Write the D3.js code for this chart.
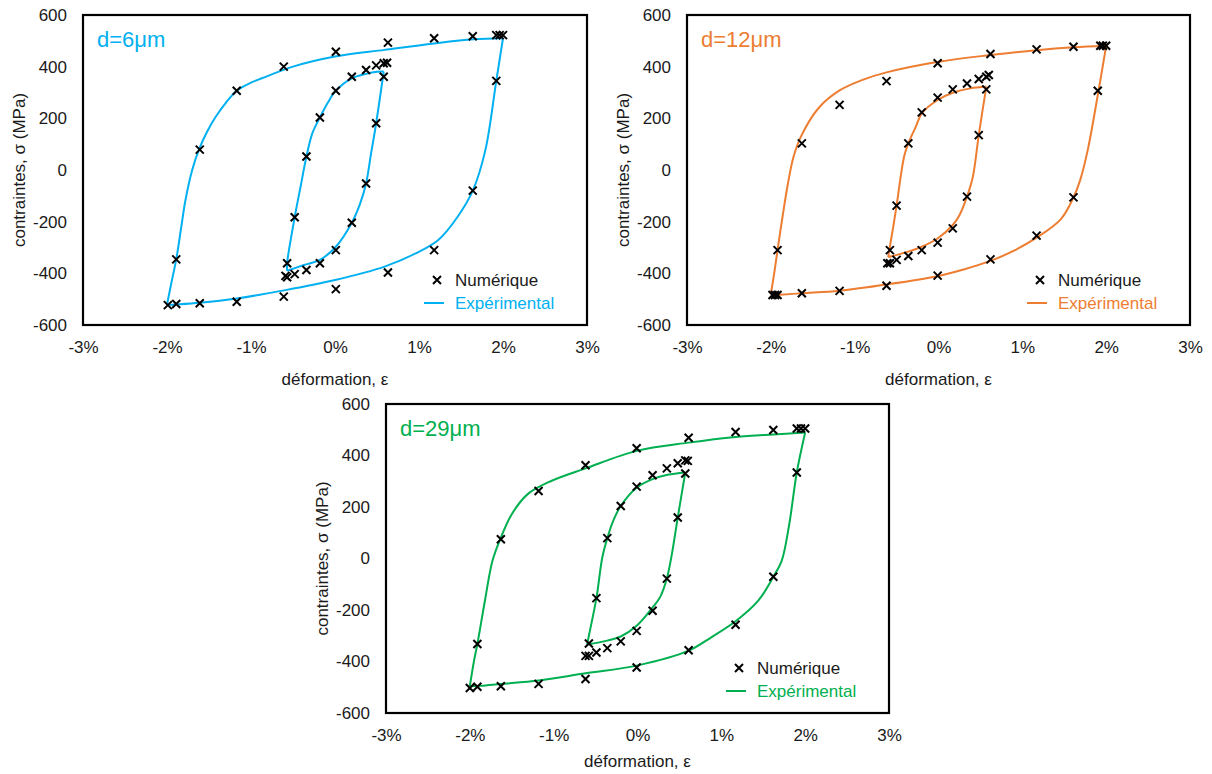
<!DOCTYPE html>
<html>
<head>
<meta charset="utf-8">
<script src="https://cdn.jsdelivr.net/npm/d3@7/dist/d3.min.js"></script>
<style>
  html, body { margin: 0; padding: 0; background: #fff; }
  svg { display: block; }
  text { font-family: "Liberation Sans", Arial, sans-serif; }
</style>
</head>
<body>
<svg id="chart" width="1212" height="774"></svg>
<script>
// ---------- axis ticks ----------
const xTicks = [-3, -2, -1, 0, 1, 2, 3];
const yTicks = [-600, -400, -200, 0, 200, 400, 600];
const legendLabels = ["Numérique", "Expérimental"];
const xTitle = "déformation, ε";
const yTitle = "contraintes, σ (MPa)";

// ---------- d = 6 µm ----------
const num6 = [
  [1.92,522],[1.96,522],[2.0,522],[1.64,518],[1.18,510],[0.63,493],[0.01,458],[-0.61,400],
  [-1.17,307],[-1.61,79],[-1.89,-346],[-1.99,-523],[-1.89,-519],[-1.61,-516],[-1.17,-510],
  [-0.61,-490],[0.01,-461],[0.63,-397],[1.18,-310],[1.64,-80],[1.92,345],
  [0.58,361],[0.58,413],[0.62,415],[0.49,405],[0.37,387],[0.20,361],[0.01,307],[-0.18,203],
  [-0.34,52],[-0.48,-183],[-0.57,-361],[-0.59,-410],[-0.57,-415],[-0.48,-403],[-0.34,-387],
  [-0.18,-361],[0.01,-310],[0.20,-204],[0.37,-52],[0.49,181]
];
const exp6OuterDown = [
  [2.0,510],[1.92,345],[1.79,77],[1.64,-80],[1.46,-181],[1.23,-271],[0.96,-323],[0.59,-374],
  [0.0,-426],[-0.59,-465],[-1.17,-497],[-1.61,-514],[-1.90,-521],[-2.0,-523]
];
const exp6OuterUp = [
  [-2.0,-521],[-1.95,-440],[-1.89,-346],[-1.83,-220],[-1.78,-116],[-1.70,0],[-1.62,79],
  [-1.52,150],[-1.42,206],[-1.30,260],[-1.17,307],[-1.0,338],[-0.87,355],[-0.50,400],
  [0.0,439],[0.59,465],[1.18,490],[1.65,506],[2.0,510]
];
const exp6InnerDown = [
  [0.58,381],[0.49,181],[0.43,65],[0.37,-52],[0.30,-129],[0.20,-204],[0.01,-297],
  [-0.18,-348],[-0.37,-368],[-0.57,-390]
];
const exp6InnerUp = [
  [-0.57,-390],[-0.57,-361],[-0.48,-183],[-0.41,-65],[-0.34,52],[-0.27,142],[-0.18,203],
  [-0.09,258],[0.01,307],[0.20,355],[0.37,372],[0.50,380],[0.58,381]
];

// ---------- d = 12 µm ----------
const num12 = [
  [1.93,481],[1.96,481],[2.0,481],[1.61,477],[1.17,467],[0.62,449],[-0.01,413],[-0.62,344],
  [-1.18,252],[-1.63,103],[-1.92,-310],[-1.98,-484],[-1.95,-484],[-1.92,-484],[-1.63,-477],
  [-1.18,-468],[-0.62,-448],[-0.01,-409],[0.62,-346],[1.17,-254],[1.61,-106],[1.90,307],
  [0.57,312],[0.57,361],[0.60,368],[0.48,352],[0.34,335],[0.17,312],[-0.01,280],[-0.20,223],
  [-0.36,103],[-0.50,-138],[-0.58,-310],[-0.61,-361],[-0.58,-361],[-0.50,-348],[-0.36,-333],
  [-0.20,-310],[-0.01,-281],[0.17,-226],[0.34,-103],[0.48,135]
];
const exp12OuterDown = [
  [2.0,481],[1.89,271],[1.78,77],[1.69,-39],[1.61,-106],[1.46,-190],[1.17,-262],[0.90,-312],
  [0.62,-352],[0.30,-385],[0.0,-410],[-0.62,-443],[-1.18,-467],[-1.63,-477],[-1.93,-484],[-2.0,-485]
];
const exp12OuterUp = [
  [-2.0,-480],[-1.96,-400],[-1.92,-310],[-1.86,-180],[-1.80,-60],[-1.73,50],[-1.64,130],
  [-1.43,240],[-1.18,308],[-0.88,352],[-0.62,378],[0.0,419],[0.62,445],[1.17,464],
  [1.61,475],[2.0,481]
];
const exp12InnerDown = [
  [0.57,322],[0.48,135],[0.41,-26],[0.34,-103],[0.25,-175],[0.17,-213],[-0.01,-265],
  [-0.20,-297],[-0.36,-316],[-0.60,-337]
];
const exp12InnerUp = [
  [-0.60,-337],[-0.58,-297],[-0.54,-220],[-0.50,-138],[-0.41,52],[-0.36,103],[-0.27,168],
  [-0.20,219],[-0.01,271],[0.17,299],[0.38,316],[0.57,322]
];

// ---------- d = 29 µm ----------
const num29 = [
  [1.90,505],[1.95,505],[2.0,505],[1.62,499],[1.17,491],[0.61,469],[-0.01,428],[-0.62,362],
  [-1.18,262],[-1.63,75],[-1.91,-332],[-2.0,-503],[-1.91,-498],[-1.63,-496],[-1.18,-487],
  [-0.62,-468],[-0.01,-423],[0.61,-356],[1.17,-257],[1.62,-71],[1.90,334],
  [0.57,330],[0.57,381],[0.60,379],[0.48,370],[0.35,350],[0.18,323],[-0.01,279],[-0.20,204],
  [-0.36,79],[-0.49,-154],[-0.58,-330],[-0.62,-378],[-0.58,-378],[-0.49,-365],[-0.36,-348],
  [-0.20,-322],[-0.01,-281],[0.18,-203],[0.35,-78],[0.48,159]
];
const exp29OuterDown = [
  [2.0,489],[1.90,334],[1.81,133],[1.72,-9],[1.62,-71],[1.44,-164],[1.17,-244],[0.88,-306],
  [0.61,-358],[-0.01,-416],[-0.62,-446],[-1.18,-474],[-1.63,-487],[-1.87,-494],[-2.0,-496]
];
const exp29OuterUp = [
  [-2.0,-496],[-1.95,-397],[-1.91,-332],[-1.82,-164],[-1.73,-9],[-1.63,81],[-1.50,172],
  [-1.31,250],[-1.03,301],[-0.62,350],[-0.01,418],[0.61,450],[1.17,472],[1.62,482],[2.0,489]
];
const exp29InnerDown = [
  [0.57,334],[0.48,159],[0.41,17],[0.35,-78],[0.27,-150],[0.18,-190],[-0.01,-261],
  [-0.20,-303],[-0.36,-319],[-0.60,-334]
];
const exp29InnerUp = [
  [-0.60,-334],[-0.58,-300],[-0.49,-154],[-0.42,4],[-0.36,79],[-0.29,146],[-0.20,204],
  [-0.01,275],[0.18,308],[0.36,325],[0.57,334]
];

const panels = [
  { title: "d=6μm",  color: "#00B0F0", box: {l: 83,  t: 15,  r: 587,  b: 325}, xtDy: 60,
    num: num6,  exp: [exp6OuterDown, exp6OuterUp, exp6InnerDown, exp6InnerUp] },
  { title: "d=12μm", color: "#ED7D31", box: {l: 687, t: 15,  r: 1190, b: 325}, xtDy: 60,
    num: num12, exp: [exp12OuterDown, exp12OuterUp, exp12InnerDown, exp12InnerUp] },
  { title: "d=29μm", color: "#00B050", box: {l: 386, t: 404, r: 889,  b: 713}, xtDy: 54,
    num: num29, exp: [exp29OuterDown, exp29OuterUp, exp29InnerDown, exp29InnerUp] }
];

const svg = d3.select("#chart");
const FS = 17;

function cross(g, cx, cy, h) {
  g.append("path")
    .attr("d", `M${cx-h},${cy-h}L${cx+h},${cy+h}M${cx-h},${cy+h}L${cx+h},${cy-h}`)
    .attr("stroke", "#000").attr("stroke-width", 2).attr("fill", "none");
}

panels.forEach(p => {
  const b = p.box;
  const x = d3.scaleLinear().domain([-3, 3]).range([b.l, b.r]);
  const y = d3.scaleLinear().domain([-600, 600]).range([b.b, b.t]);
  const g = svg.append("g");

  // axes (labels only)
  const ax = g.append("g").attr("transform", `translate(0,${b.b})`)
    .call(d3.axisBottom(x).tickValues(xTicks).tickSize(0).tickPadding(16)
      .tickFormat(d => String(d) + "%"));
  const ay = g.append("g").attr("transform", `translate(${b.l},0)`)
    .call(d3.axisLeft(y).tickValues(yTicks).tickSize(0).tickPadding(16)
      .tickFormat(d => String(d)));
  [ax, ay].forEach(a => {
    a.select(".domain").remove();
    a.selectAll("text").attr("font-size", FS).attr("fill", "#1a1a1a")
      .attr("font-family", '"Liberation Sans", Arial, sans-serif');
  });

  // axis titles
  g.append("text").attr("x", (b.l + b.r) / 2).attr("y", b.b + p.xtDy)
    .attr("text-anchor", "middle").attr("font-size", FS).attr("fill", "#1a1a1a").text(xTitle);
  g.append("text").attr("transform", `translate(${b.l - 58},${(b.t + b.b) / 2}) rotate(-90)`)
    .attr("text-anchor", "middle").attr("font-size", FS).attr("fill", "#1a1a1a").text(yTitle);

  // experimental curves
  const line = d3.line().x(d => x(d[0])).y(d => y(d[1])).curve(d3.curveCatmullRom.alpha(0.5));
  p.exp.forEach(seg => {
    g.append("path").datum(seg).attr("d", line)
      .attr("fill", "none").attr("stroke", p.color).attr("stroke-width", 2);
  });

  // numerical crosses
  p.num.forEach(d => cross(g, x(d[0]), y(d[1]), 4));

  // plot border
  g.append("rect").attr("x", b.l).attr("y", b.t).attr("width", b.r - b.l).attr("height", b.b - b.t)
    .attr("fill", "none").attr("stroke", "#000").attr("stroke-width", 2.2);

  // title
  g.append("text").attr("x", b.l + 14).attr("y", b.t + 32).attr("font-size", 22)
    .attr("fill", p.color).text(p.title);

  // legend
  const lx = b.r - 150, ly1 = b.b - 45, ly2 = b.b - 22;
  cross(g, lx, ly1, 4);
  g.append("text").attr("x", lx + 18).attr("y", ly1 + 6).attr("font-size", FS)
    .attr("fill", "#1a1a1a").text(legendLabels[0]);
  g.append("line").attr("x1", lx - 13).attr("x2", lx + 7).attr("y1", ly2).attr("y2", ly2)
    .attr("stroke", p.color).attr("stroke-width", 2);
  g.append("text").attr("x", lx + 18).attr("y", ly2 + 6).attr("font-size", FS)
    .attr("fill", p.color).text(legendLabels[1]);
});
</script>
</body>
</html>
